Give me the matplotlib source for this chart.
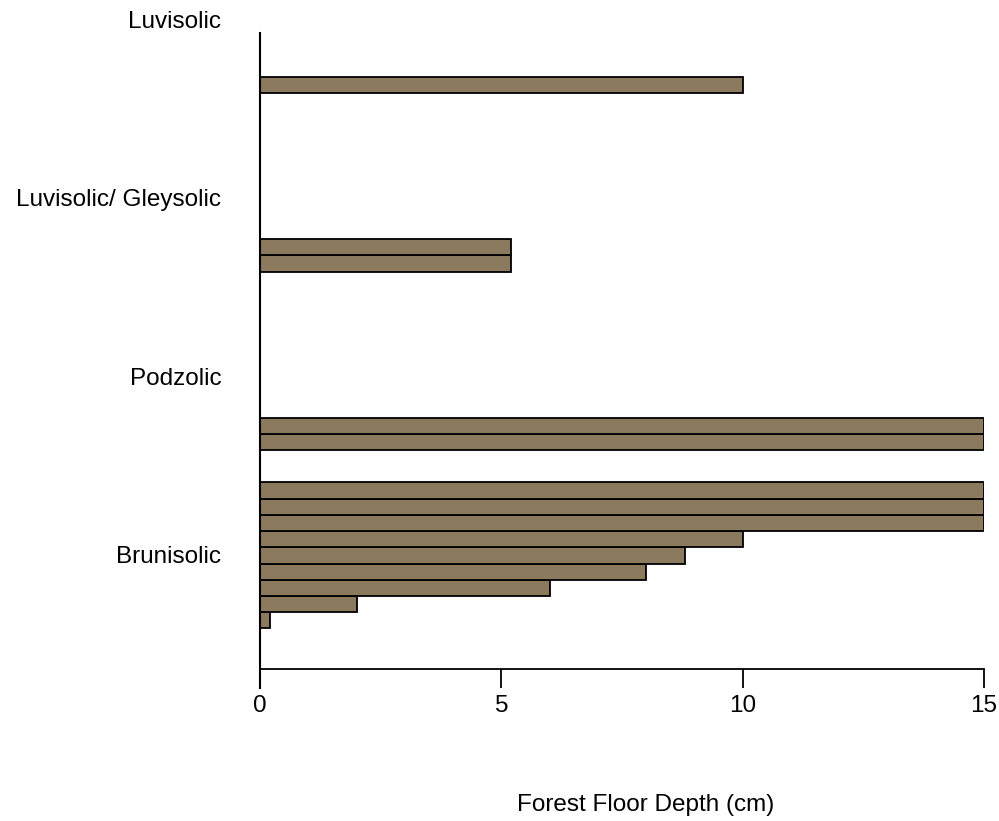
import numpy as np
import matplotlib.pyplot as plt

plt.rcParams['font.family'] = ['Liberation Sans', 'DejaVu Sans']

soil_orders = ['Brunisolic', 'Podzolic', 'Luvisolic/ Gleysolic', 'Luvisolic']
# forest floor depth per site, listed bottom to top within each group
brunisolic = [0.2, 2, 6, 8, 8.8, 10, 15, 15, 15]
podzolic = [15, 15]
luv_gley = [5.2, 5.2]
luvisolic = [10]
groups = [brunisolic, podzolic, luv_gley, luvisolic]
xticks = [0, 5, 10, 15]

fig = plt.figure(figsize=(9.99, 8.21), dpi=100)
ax = fig.add_axes([260/999, 1 - 669/821, 724/999, 636/821])

slot = 11  # each soil order gets 11 bar slots
for k, vals in enumerate(groups):
    base = 3 + slot*k
    ypos = base + np.arange(len(vals))
    ax.barh(ypos, vals, height=1.0, color='#8b7a5e', edgecolor='black', linewidth=1.3)
    ax.text(-0.8, 7 + slot*k - 0.1, soil_orders[k], ha='right', va='center',
            fontsize=17.5, clip_on=False)

ax.set_xlim(0, 15)
ax.set_ylim(0, 39.2)
ax.spines['top'].set_visible(False)
ax.spines['right'].set_visible(False)
ax.spines['left'].set_linewidth(1.5)
ax.spines['bottom'].set_linewidth(1.3)
ax.spines['left'].set_bounds(-1.2, 39.2)
ax.spines['left'].set_clip_on(False)
ax.set_yticks([])
ax.set_xticks(xticks)
ax.set_xticklabels([str(t) for t in xticks])
ax.tick_params(axis='x', length=14, width=1.3, labelsize=17.5, pad=5)
ax.set_xlabel('Forest Floor Depth (cm)', fontsize=17.5)
ax.xaxis.set_label_coords((646 - 260)/724, -(805 - 669)/636)
ax.xaxis.label.set_va('center')

plt.savefig('out.png', dpi=100)
